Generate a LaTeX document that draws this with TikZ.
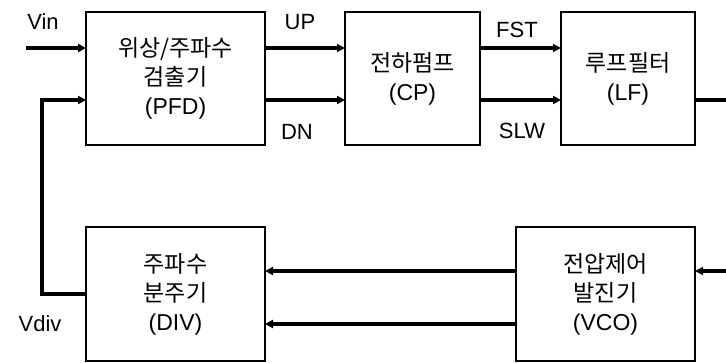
\documentclass[tikz,border=0pt]{standalone}
\usepackage{fontspec}
\setmainfont{Liberation Sans}
\newfontfamily\kr{Noto Sans CJK KR}
\usetikzlibrary{arrows.meta,calc}
\tikzset{
  blk/.style={draw=black, line width=2pt, rectangle, align=center, inner sep=0pt,
    font=\fontsize{23}{29}\selectfont},
  conn/.style={line width=3.5pt},
  arr/.style={conn, -{Triangle[length=8pt,width=8pt]}, shorten >=-1pt},
  lbl/.style={font=\fontsize{22}{26}\selectfont, inner sep=0pt}
}
\begin{document}
\begin{tikzpicture}[x=1pt,y=-1pt]
\useasboundingbox (0,0) rectangle (726,362);
\node[blk, minimum width=179pt, minimum height=133pt] (PFD) at (175.5,78.5)
  {{\kr 위상/주파수}\\{\kr 검출기}\\(PFD)};
\node[blk, minimum width=135pt, minimum height=133pt] (CP) at (412.5,78.5)
  {{\kr 전하펌프}\\(CP)};
\node[blk, minimum width=134pt, minimum height=133pt] (LF) at (628,78.5)
  {{\kr 루프필터}\\(LF)};
\node[blk, minimum width=179pt, minimum height=134pt] (DIV) at (175.5,294)
  {{\kr 주파수}\\{\kr 분주기}\\(DIV)};
\node[blk, minimum width=179pt, minimum height=134pt] (VCO) at (605.5,294)
  {{\kr 전압제어}\\{\kr 발진기}\\(VCO)};
\coordinate (vinstart) at (26,48);
\coordinate (fbx) at (42,100);
\coordinate (lfout) at (726,100);
\coordinate (vcoin) at (726,271);
\coordinate (ya) at (0,48);
\coordinate (yb) at (0,100);
\coordinate (yc) at (0,271);
\coordinate (yd) at (0,324);
% top row
\draw[arr] (vinstart) -- (PFD.west |- vinstart);
\draw[arr] (PFD.east |- ya) -- (CP.west |- ya);
\draw[arr] (PFD.east |- yb) -- (CP.west |- yb);
\draw[arr] (CP.east |- ya) -- (LF.west |- ya);
\draw[arr] (CP.east |- yb) -- (LF.west |- yb);
\draw[conn] (LF.east |- yb) -- (lfout);
% bottom row
\draw[arr] (vcoin) -- (VCO.east |- vcoin);
\draw[arr] (VCO.west |- yc) -- (DIV.east |- yc);
\draw[arr] (VCO.west |- yd) -- (DIV.east |- yd);
% feedback
\draw[arr] (DIV.west) -| (fbx) -- (PFD.west |- fbx);
% labels
\node[lbl] (lvin) at (43,22) {Vin};
\node[lbl] (lup) at (300,22) {UP};
\node[lbl] (ldn) at (297,132) {DN};
\node[lbl] (lfst) at (517,30) {FST};
\node[lbl] (lslw) at (522,131) {SLW};
\node[lbl] (lvdiv) at (40,324) {Vdiv};
\end{tikzpicture}
\end{document}
